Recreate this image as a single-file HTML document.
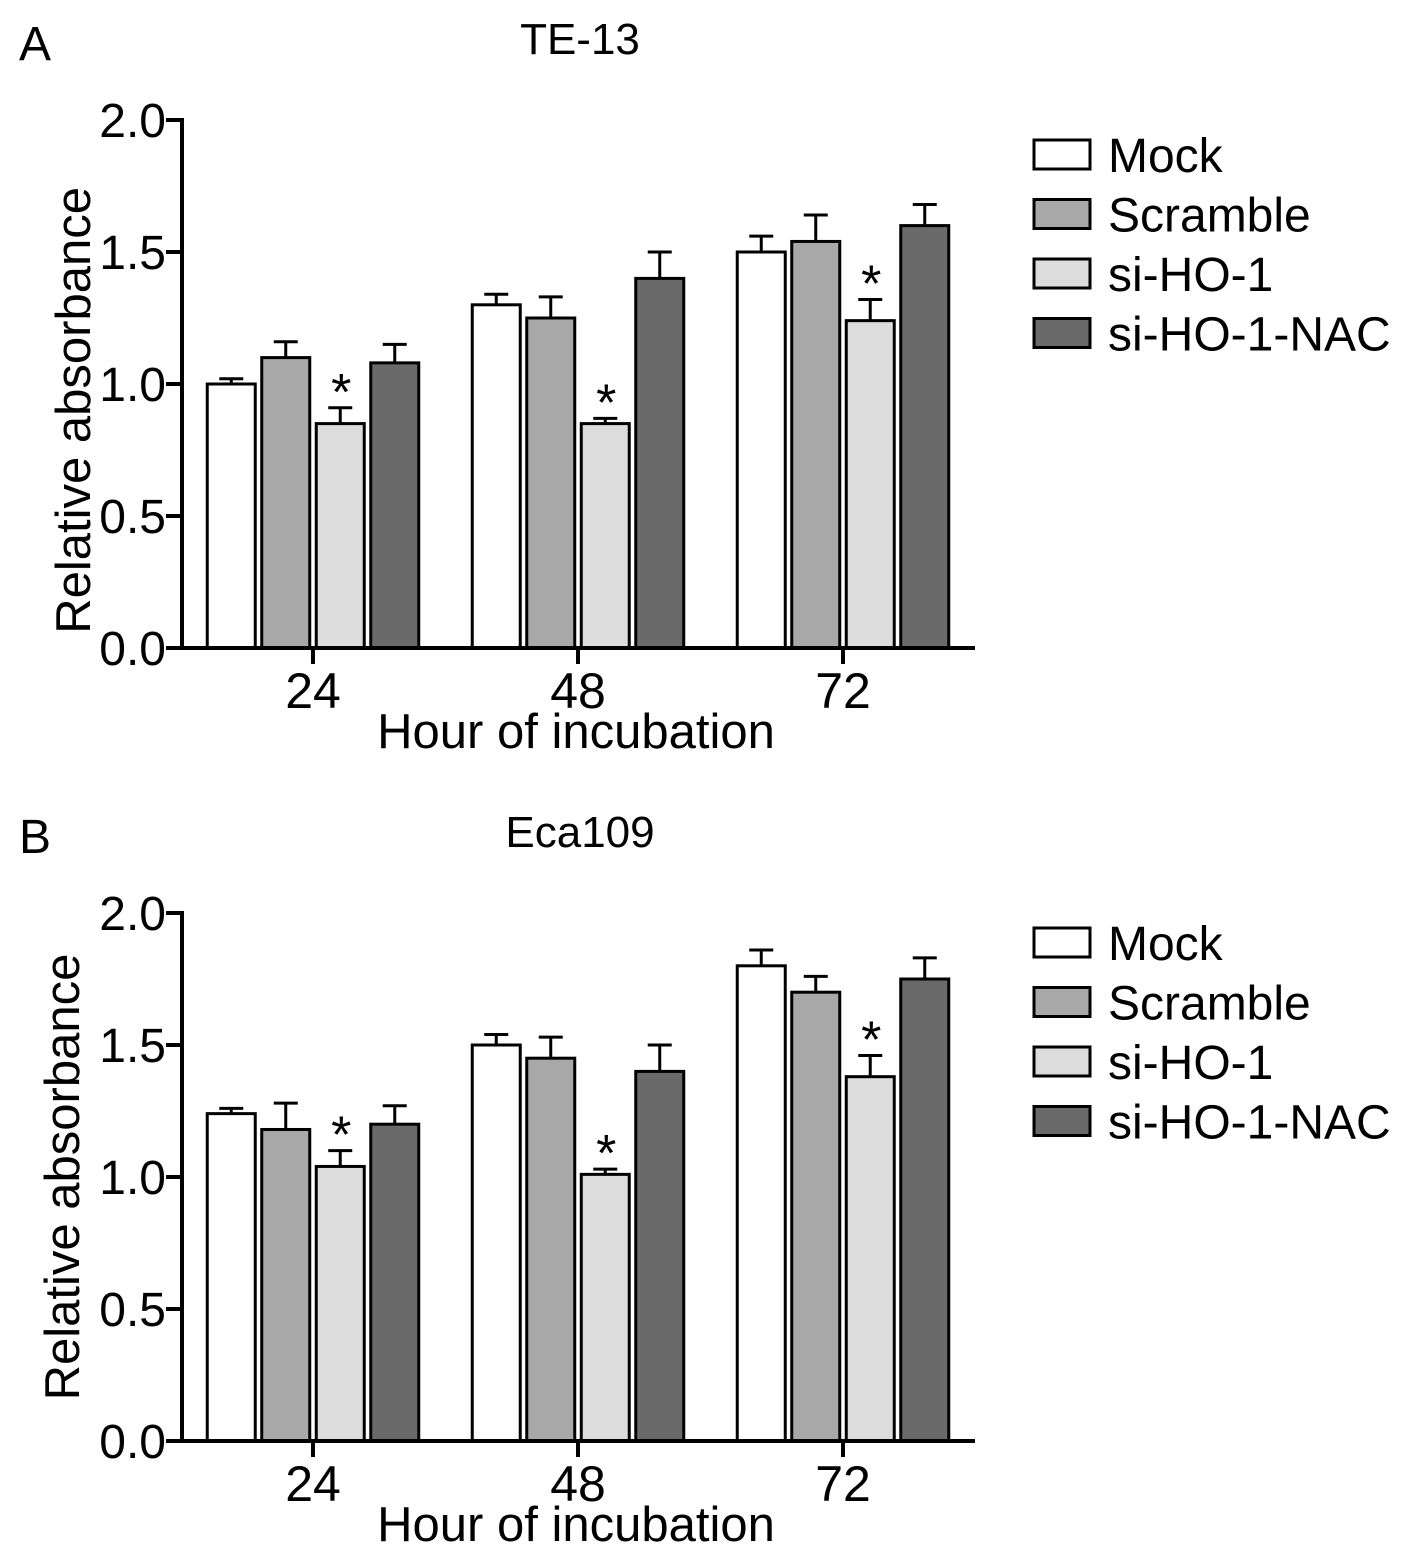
<!DOCTYPE html>
<html><head><meta charset="utf-8"><style>
body{margin:0;background:#fff}
svg{display:block;font-family:"Liberation Sans",Arial,sans-serif}
</style></head><body>
<svg id="chart" width="1417" height="1563" viewBox="0 0 1417 1563"></svg>
<script>
const groups = ["24","48","72"];
const series = ["Mock","Scramble","si-HO-1","si-HO-1-NAC"];
const colors = ["#ffffff","#a8a8a8","#dcdcdc","#6a6a6a"];
const yTicks = [0,0.5,1.0,1.5,2.0];
const tickLabels = ["0.0","0.5","1.0","1.5","2.0"];
const meanA = [[1.00,1.10,0.85,1.08],[1.30,1.25,0.85,1.40],[1.50,1.54,1.24,1.60]];
const errA  = [[0.02,0.06,0.06,0.07],[0.04,0.08,0.02,0.10],[0.06,0.10,0.08,0.08]];
const meanB = [[1.24,1.18,1.04,1.20],[1.50,1.45,1.01,1.40],[1.80,1.70,1.38,1.75]];
const errB  = [[0.02,0.10,0.06,0.07],[0.04,0.08,0.02,0.10],[0.06,0.06,0.08,0.08]];
const sigA = [[false,false,true,false],[false,false,true,false],[false,false,true,false]];
const sigB = [[false,false,true,false],[false,false,true,false],[false,false,true,false]];

const NS="http://www.w3.org/2000/svg";
const svg=document.getElementById('chart');
function mk(tag,attrs,parent,text){const e=document.createElementNS(NS,tag);for(const k in attrs)e.setAttribute(k,attrs[k]);if(text!==undefined)e.textContent=text;(parent||svg).appendChild(e);return e;}

function panel(letter,title,means,errs,sig,oy,id,ytx,yty,legOy){
  const g=mk('g',{});
  
  
  const x0=182, xEnd=975, base=648+oy, unit=264;
  const y=v=>base-v*unit;
  const gx=i=>313+i*265;
  const bw=48, pitch=54.5;
  let t=mk('text',{x:19,y:60+oy,'font-size':48},g,letter);
  
  t=mk('text',{x:580,y:54+oy,'font-size':44,'text-anchor':'middle'},g,title);
  
  means.forEach((row,gi)=>{row.forEach((v,si)=>{
    const xl=gx(gi)-2*pitch+si*pitch+(pitch-bw)/2;
    const top=y(v), et=y(v+errs[gi][si]), cx=xl+bw/2;
    const eb=mk('line',{x1:cx,x2:cx,y1:top,y2:et,stroke:'#000','stroke-width':3},g);
    
    const cap=mk('line',{x1:cx-12,x2:cx+12,y1:et,y2:et,stroke:'#000','stroke-width':3},g);
    
    const r=mk('rect',{x:xl,y:top,width:bw,height:base-top,fill:colors[si],stroke:'#000','stroke-width':3},g);
    
    
    if(sig[gi][si]){const s=mk('text',{x:cx+1,y:et+2,'font-size':52,'text-anchor':'middle'},g,'*');
      }
  });});
  const ya=mk('line',{x1:x0,x2:x0,y1:y(2)-2,y2:base+1.5,stroke:'#000','stroke-width':4},g);
  
  const xa=mk('line',{x1:x0-2,x2:xEnd,y1:base,y2:base,stroke:'#000','stroke-width':4},g);
  
  yTicks.forEach((v,i)=>{
    const tk=mk('line',{x1:x0-16,x2:x0,y1:y(v),y2:y(v),stroke:'#000','stroke-width':4},g);
    
    const tl=mk('text',{x:166,y:y(v)+17,'font-size':48,'text-anchor':'end'},g,tickLabels[i]);
    
  });
  groups.forEach((lab,i)=>{
    const tk=mk('line',{x1:gx(i),x2:gx(i),y1:base,y2:base+16,stroke:'#000','stroke-width':4},g);
    
    const tl=mk('text',{x:gx(i),y:base+60,'font-size':50,'text-anchor':'middle'},g,lab);
    
  });
  t=mk('text',{x:576,y:base+100,'font-size':49,'text-anchor':'middle'},g,'Hour of incubation');
  
  t=mk('text',{x:0,y:0,'font-size':49,'text-anchor':'middle',transform:`translate(${ytx},${y(yty)}) rotate(-90)`},g,'Relative absorbance');
  
  series.forEach((s,i)=>{
    const ry=140+legOy+i*59.5;
    const lg=mk('g',{},g);
    
    mk('rect',{x:1034,y:ry,width:56,height:29,fill:colors[i],stroke:'#000','stroke-width':3},lg);
    mk('text',{x:1108,y:ry+32,'font-size':48},lg,s);
  });
}
panel('A','TE-13',meanA,errA,sigA,0,'a',90,0.9,0);
panel('B','Eca109',meanB,errB,sigB,793,'b',79,1.0,788);
</script>
</body></html>
